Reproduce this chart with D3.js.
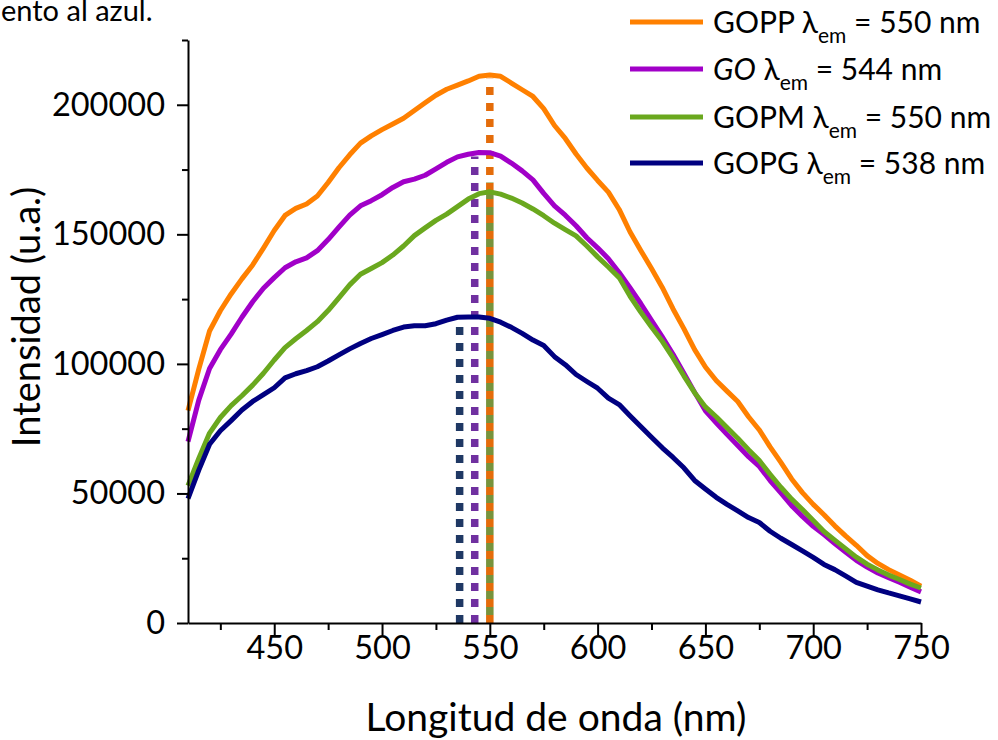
<!DOCTYPE html>
<html>
<head>
<meta charset="utf-8">
<script src="https://cdn.jsdelivr.net/npm/d3@7"></script>
<style>
  body { margin: 0; background: #fff; }
  text { font-family: Lato, "Noto Sans", sans-serif; fill: #000; }
</style>
</head>
<body>
<script>
// wavelengths (nm)
var wavelengths = [410, 415, 420, 425, 430, 435, 440, 445, 450, 455, 460, 465, 470, 475, 480, 485,
  490, 495, 500, 505, 510, 515, 520, 525, 530, 535, 540, 545, 550, 555, 560, 565, 570, 575, 580,
  585, 590, 595, 600, 605, 610, 615, 620, 625, 630, 635, 640, 645, 650, 655, 660, 665, 670, 675,
  680, 685, 690, 695, 700, 705, 710, 715, 720, 725, 730, 735, 740, 745, 750];

var gopp = [82000, 98000, 112700, 120500, 127000, 132800, 138200, 144700, 151500, 157300, 160000,
  161700, 164800, 170000, 175700, 180700, 185200, 188000, 190400, 192600, 194800, 197800, 200800,
  203700, 206000, 207600, 209200, 211000, 211500, 211000, 208400, 205800, 203200, 198500, 192000,
  187000, 181000, 175600, 170800, 166300, 159600, 151000, 143800, 136800, 129500, 121200, 113600,
  105500, 98800, 93600, 89500, 85500, 79600, 74500, 68000, 62000, 55600, 50300, 45800, 41800,
  37500, 33600, 30000, 26000, 23000, 20600, 18500, 16500, 14200];

var go = [70000, 86000, 98200, 105500, 111500, 118000, 124000, 129200, 133300, 137100, 139400,
  140900, 143700, 148000, 152800, 157400, 161000, 163000, 165300, 168100, 170300, 171300, 172800,
  175300, 177800, 179900, 180900, 181600, 181500, 180200, 177500, 174500, 171000, 165800, 161000,
  157400, 153300, 148700, 144800, 140600, 135300, 129400, 123300, 116800, 110400, 103700, 96400,
  89000, 81900, 77300, 72800, 68500, 64200, 60400, 55000, 50200, 45300, 41100, 37300, 34100,
  30700, 27400, 24200, 21600, 19300, 17500, 15700, 13800, 12000];

var gopm = [53000, 63500, 73300, 79300, 83900, 87700, 91800, 96400, 101500, 106300, 109700,
  112900, 116300, 120600, 125500, 130500, 134600, 136800, 139100, 142000, 145500, 149500, 152500,
  155400, 157800, 160700, 163600, 165700, 166400, 165500, 164000, 162100, 159800, 157200, 154300,
  151800, 149400, 145500, 141300, 137400, 133300, 126200, 120000, 114200, 108700, 102300, 95400,
  88900, 83400, 79600, 75400, 71300, 66900, 62700, 57400, 52400, 47800, 43800, 39600, 35300,
  32000, 28700, 25400, 22700, 20500, 18500, 16800, 15000, 13500];

var gopg = [48000, 59000, 69000, 74200, 78100, 82200, 85500, 88100, 90800, 94600, 96200,
  97400, 98900, 101100, 103500, 105800, 107900, 109800, 111300, 112900, 114200, 114700, 114700,
  115500, 116900, 118000, 118100, 118100, 117600, 116100, 114100, 111800, 109200, 107100, 102800,
  99700, 95900, 93200, 90600, 86800, 84300, 80000, 75800, 71700, 67600, 63900, 59900,
  55000, 51700, 48500, 45800, 43300, 40700, 38800, 35400, 32700, 30300, 27800, 25300, 22600,
  20600, 18200, 15700, 14200, 12800, 11600, 10500, 9300, 8100];

var seriesNames = ['GOPP', 'GO', 'GOPM', 'GOPG'];
var emission = [550, 544, 550, 538];
var seriesColors = ['#ff8000', '#a100c8', '#6aa81e', '#000080'];

// dotted markers at the emission maxima
var markerNm = [536, 543, 550, 550];
var markerTop = [118000, 180000, 210000, 170000];
var markerColors = ['#1f3864', '#7030a0', '#e46c0a', '#77933c'];

var xTicks = [450, 500, 550, 600, 650, 700, 750];
var xMinor = [425, 475, 525, 575, 625, 675, 725];
var yTicks = [0, 50000, 100000, 150000, 200000];
var yMinor = [25000, 75000, 125000, 175000, 225000];

var W = 998, H = 740;
var svg = d3.select('body').append('svg')
  .attr('width', W)
  .attr('height', H);

var x = d3.scaleLinear().domain([410, 750]).range([188, 921]);
var y = d3.scaleLinear().domain([0, 225000]).range([623, 40]);

// caption fragment at the top-left
svg.append('text')
  .attr('x', 1).attr('y', 21)
  .style('font-size', '29px')
  .text('ento al azul.');

// dotted lines
svg.selectAll('line.marker').data(markerNm).enter().append('line')
  .attr('class', 'marker')
  .attr('x1', function(d){ return x(d); })
  .attr('x2', function(d){ return x(d); })
  .attr('y1', y(0))
  .attr('y2', function(d, i){ return y(markerTop[i]); })
  .attr('stroke', function(d, i){ return markerColors[i]; })
  .attr('stroke-width', 7.5)
  .attr('stroke-dasharray', '8,8')
  .attr('stroke-dashoffset', function(d, i){ return i == 3 ? 8 : 0; });

// curves
var series = [gopp, go, gopm, gopg];
var line = d3.line()
  .x(function(d, i){ return x(wavelengths[i]); })
  .y(function(d){ return y(d); });

svg.selectAll('path.curve').data(series).enter().append('path')
  .attr('class', 'curve')
  .attr('d', line)
  .attr('fill', 'none')
  .attr('stroke', function(d, i){ return seriesColors[i]; })
  .attr('stroke-width', 5)
  .attr('stroke-linejoin', 'round');

// axes
svg.append('g')
  .attr('transform', 'translate(0,' + y(0) + ')')
  .call(d3.axisBottom(x).tickValues(xTicks).tickSize(12).tickSizeOuter(0).tickPadding(1)
    .tickFormat(d3.format('d')));
svg.append('g')
  .attr('transform', 'translate(0,' + y(0) + ')')
  .call(d3.axisBottom(x).tickValues(xMinor).tickSize(7).tickFormat(''))
  .select('.domain').remove();

svg.append('g')
  .attr('transform', 'translate(' + x(410) + ',0)')
  .call(d3.axisLeft(y).tickValues(yTicks).tickSize(11).tickSizeOuter(0).tickPadding(12)
    .tickFormat(d3.format('d')));
svg.append('g')
  .attr('transform', 'translate(' + x(410) + ',0)')
  .call(d3.axisLeft(y).tickValues(yMinor).tickSize(6).tickFormat(''))
  .select('.domain').remove();

svg.selectAll('.domain, .tick line')
  .attr('stroke', '#000')
  .attr('stroke-width', 2);
svg.selectAll('.tick text')
  .style('font-size', '32.5px')
  .style('font-family', 'Lato, "Noto Sans", sans-serif')
  .attr('fill', '#000');

// axis titles
svg.append('text')
  .attr('x', 556).attr('y', 731)
  .attr('text-anchor', 'middle')
  .style('font-size', '39px')
  .text('Longitud de onda (nm)');

svg.append('text')
  .attr('transform', 'translate(40,317) rotate(-90)')
  .attr('text-anchor', 'middle')
  .style('font-size', '38px')
  .text('Intensidad (u.a.)');

// legend
var legendY = [22, 69, 117, 163];
var legend = svg.selectAll('g.legend').data(seriesNames).enter().append('g')
  .attr('class', 'legend')
  .attr('transform', function(d, i){ return 'translate(0,' + legendY[i] + ')'; });

legend.append('line')
  .attr('x1', 630).attr('x2', 703)
  .attr('stroke', function(d, i){ return seriesColors[i]; })
  .attr('stroke-width', 5);

var lt = legend.append('text')
  .attr('x', 713).attr('y', 11)
  .style('font-size', '30px');
lt.append('tspan')
  .style('font-style', function(d){ return d == 'GO' ? 'italic' : 'normal'; })
  .text(function(d){ return d; });
lt.append('tspan').text(' \u03bb');
lt.append('tspan')
  .attr('dy', 10)
  .style('font-size', '21px')
  .text('em');
lt.append('tspan')
  .attr('dy', -10)
  .text(function(d, i){ return ' = ' + emission[i] + ' nm'; });
</script>
</body>
</html>
